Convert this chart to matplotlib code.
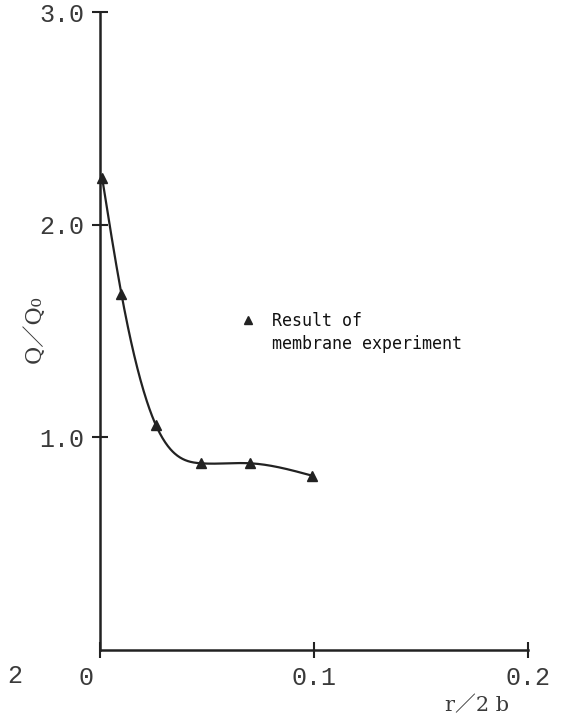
import numpy as np
import matplotlib
matplotlib.use("Agg")
import matplotlib.pyplot as plt
from matplotlib.transforms import ScaledTranslation

# ---- data ----
r_2b = [0.001, 0.010, 0.026, 0.047, 0.070, 0.099]
q_ratio = [2.22, 1.675, 1.06, 0.878, 0.878, 0.82]

x_ticks = [0.0, 0.1, 0.2]
x_tick_labels = ["0", "0.1", "0.2"]
y_ticks = [1.0, 2.0, 3.0]
y_tick_labels = ["1.0", "2.0", "3.0"]

legend_label = "Result of\nmembrane experiment"


def natural_spline(x, y, xs):
    x = np.asarray(x, float)
    y = np.asarray(y, float)
    n = len(x)
    h = np.diff(x)
    A = np.zeros((n, n))
    b = np.zeros(n)
    A[0, 0] = 1.0
    A[-1, -1] = 1.0
    for i in range(1, n - 1):
        A[i, i - 1] = h[i - 1]
        A[i, i] = 2 * (h[i - 1] + h[i])
        A[i, i + 1] = h[i]
        b[i] = 6 * ((y[i + 1] - y[i]) / h[i] - (y[i] - y[i - 1]) / h[i - 1])
    M = np.linalg.solve(A, b)
    out = np.empty_like(xs)
    for j, xv in enumerate(xs):
        k = min(max(np.searchsorted(x, xv) - 1, 0), n - 2)
        t1 = x[k + 1] - xv
        t0 = xv - x[k]
        out[j] = (M[k] * t1**3 / (6 * h[k]) + M[k + 1] * t0**3 / (6 * h[k])
                  + (y[k] / h[k] - M[k] * h[k] / 6) * t1
                  + (y[k + 1] / h[k] - M[k + 1] * h[k] / 6) * t0)
    return out


fig = plt.figure(figsize=(5.74, 7.17), dpi=100)
fig.patch.set_facecolor("white")
ax = fig.add_axes([100 / 574, 67 / 717, 428 / 574, 638 / 717])

xs = np.linspace(r_2b[0], r_2b[-1], 400)
ax.plot(xs, natural_spline(r_2b, q_ratio, xs), color="#222222", lw=1.6, clip_on=False)
ax.plot(r_2b, q_ratio, linestyle="none", marker="^", color="#222222",
        markersize=6.5, clip_on=False)

ax.set_xlim(0, 0.2)
ax.set_ylim(0, 3.0)
for s in ["top", "right"]:
    ax.spines[s].set_visible(False)
for s in ["left", "bottom"]:
    ax.spines[s].set_linewidth(1.8)
    ax.spines[s].set_color("#222222")

mono = ["Liberation Mono", "DejaVu Sans Mono"]
ax.set_xticks(x_ticks)
ax.set_xticklabels(x_tick_labels, fontsize=18, family=mono, color="#3a3a3a")
ax.set_yticks(y_ticks)
ax.set_yticklabels(y_tick_labels, fontsize=18, family=mono, color="#3a3a3a")
ax.tick_params(axis="both", direction="inout", length=11, width=1.5, color="#222222")
ax.tick_params(axis="x", pad=6)
ax.tick_params(axis="y", pad=6)

# shift the "0" label left of the origin
lbl0 = ax.get_xticklabels()[0]
lbl0.set_transform(lbl0.get_transform() + ScaledTranslation(-14 / 100, 0, fig.dpi_scale_trans))

# legend-like annotation
ax.plot([0.0692], [1.55], linestyle="none", marker="^", color="#222222", markersize=6)
fig.text(272 / 574, 1 - 312 / 717, legend_label, fontsize=12,
         family=["DejaVu Sans Mono", "Liberation Mono"], color="#111111",
         va="top", ha="left", linespacing=1.35,
         transform=fig.transFigure)

# axis labels
cjk = ["DejaVu Serif", "Noto Sans CJK JP"]
fig.text(35 / 574, 1 - 329 / 717, "Q／Q₀", rotation=90, fontsize=16,
         family=cjk, color="#3a3a3a", ha="center", va="center")
fig.text(477 / 574, 1 - 705 / 717, "r／2 b", fontsize=15,
         family=cjk, color="#3a3a3a", ha="center", va="center")
fig.text(15 / 574, 1 - 676 / 717, "2", fontsize=18, family=mono,
         color="#3a3a3a", ha="center", va="center")

fig.savefig("out.png", dpi=100, facecolor="white")
